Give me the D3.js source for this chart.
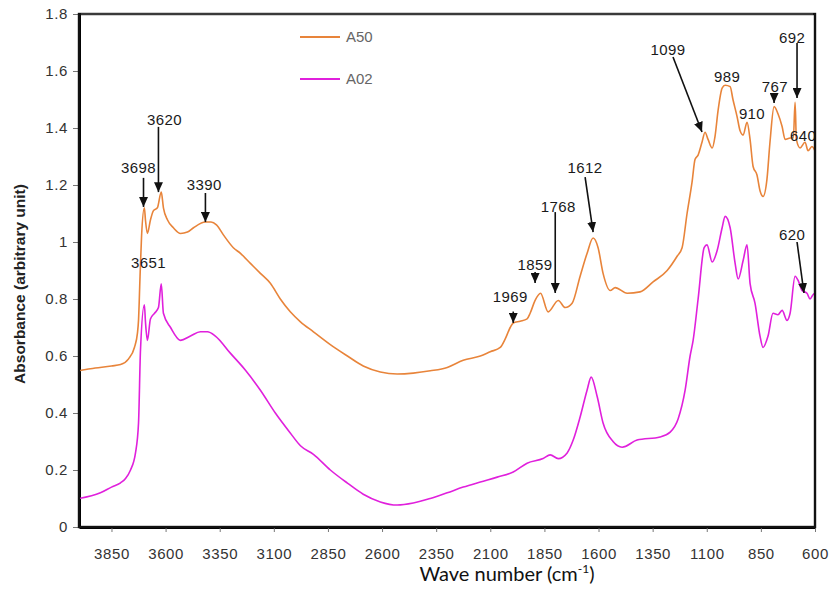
<!DOCTYPE html>
<html>
<head>
<meta charset="utf-8">
<script src="https://cdn.jsdelivr.net/npm/d3@7"></script>
<style>
  body { margin: 0; background: #fff; }
  svg { display: block; font-family: 'Liberation Sans', Arial, sans-serif; }
  .tick text { fill: #333; font-size: 15px; letter-spacing: 0.6px; }
  .tick line { stroke: #777; }
  .peak-label { font-size: 15px; fill: #1a1a1a; letter-spacing: 0.4px; }
  .legend-text { font-size: 15px; fill: #666; }
</style>
</head>
<body>
<div id="chart"></div>
<script>
var width = 833;
var height = 596;
var margin = { top: 14, right: 18, bottom: 69, left: 79 };
var graphWidth = width - margin.left - margin.right;
var graphHeight = height - margin.top - margin.bottom;

// A50 spectrum (wave number, absorbance)
var a50Wave = [4000, 3947, 3850, 3808, 3771, 3744, 3730, 3725, 3718, 3711,
  3698, 3693, 3684, 3670, 3656, 3638, 3620, 3610, 3591, 3564,
  3531, 3499, 3471, 3416, 3390, 3365, 3333, 3287, 3254, 3208,
  3162, 3116, 3070, 3024, 2977, 2917, 2839, 2760, 2687, 2608,
  2530, 2456, 2377, 2299, 2225, 2146, 2100, 2054, 2031, 2008,
  1994, 1962, 1930, 1916, 1893, 1868, 1833, 1786, 1754, 1722,
  1685, 1653, 1625, 1602, 1579, 1546, 1523, 1468, 1408, 1348,
  1283, 1237, 1214, 1191, 1168, 1154, 1140, 1122, 1108, 1094,
  1075, 1062, 1048, 1029, 1015, 992, 979, 960, 946, 932,
  914, 900, 886, 868, 854, 840, 822, 808, 789, 771,
  752, 738, 715, 700, 692, 686, 669, 646, 632, 614,
  600];
var a50Abs = [0.548, 0.555, 0.565, 0.57, 0.59, 0.63, 0.68, 0.726, 0.88, 1.02,
  1.12, 1.077, 1.03, 1.077, 1.11, 1.12, 1.175, 1.12, 1.077, 1.05,
  1.03, 1.035, 1.05, 1.07, 1.07, 1.06, 1.025, 0.98, 0.96, 0.925,
  0.89, 0.855, 0.80, 0.755, 0.72, 0.685, 0.64, 0.60, 0.565, 0.544,
  0.537, 0.54, 0.548, 0.56, 0.585, 0.60, 0.615, 0.63, 0.66, 0.70,
  0.716, 0.722, 0.73, 0.75, 0.795, 0.82, 0.755, 0.795, 0.77, 0.785,
  0.88, 0.96, 1.014, 0.98, 0.89, 0.83, 0.84, 0.82, 0.825, 0.86,
  0.90, 0.95, 0.98, 1.10, 1.21, 1.29, 1.305, 1.35, 1.385, 1.36,
  1.33, 1.37, 1.46, 1.54, 1.55, 1.545, 1.50, 1.44, 1.39, 1.375,
  1.42, 1.36, 1.265, 1.235, 1.18, 1.16, 1.22, 1.35, 1.475, 1.45,
  1.405, 1.36, 1.365, 1.365, 1.49, 1.36, 1.33, 1.35, 1.32, 1.335,
  1.32];

// A02 spectrum
var a02Wave = [4000, 3901, 3850, 3808, 3785, 3762, 3739, 3725, 3716, 3698,
  3693, 3684, 3670, 3651, 3633, 3620, 3610, 3577, 3531, 3485,
  3439, 3407, 3370, 3301, 3231, 3162, 3093, 3024, 2977, 2917,
  2839, 2760, 2687, 2608, 2530, 2456, 2377, 2299, 2225, 2146,
  2068, 1994, 1930, 1856, 1823, 1786, 1745, 1717, 1685, 1653,
  1634, 1606, 1579, 1533, 1491, 1422, 1316, 1269, 1232, 1200,
  1177, 1163, 1140, 1112, 1099, 1075, 1052, 1029, 1015, 992,
  969, 955, 932, 914, 900, 877, 854, 840, 817, 794,
  771, 752, 729, 715, 692, 678, 660, 637, 623, 609,
  600];
var a02Abs = [0.10, 0.12, 0.14, 0.155, 0.17, 0.20, 0.26, 0.365, 0.62, 0.78,
  0.72, 0.655, 0.73, 0.75, 0.77, 0.853, 0.75, 0.70, 0.655, 0.67,
  0.685, 0.685, 0.67, 0.61, 0.55, 0.48, 0.40, 0.33, 0.285, 0.255,
  0.20, 0.154, 0.115, 0.088, 0.077, 0.084, 0.10, 0.12, 0.14, 0.158,
  0.175, 0.193, 0.224, 0.24, 0.253, 0.24, 0.26, 0.305, 0.386, 0.48,
  0.526, 0.457, 0.365, 0.30, 0.28, 0.305, 0.316, 0.333, 0.38, 0.48,
  0.60, 0.655, 0.80, 0.98, 0.99, 0.93, 0.97, 1.05, 1.09, 1.05,
  0.925, 0.87, 0.935, 0.99, 0.855, 0.785, 0.67, 0.63, 0.67, 0.75,
  0.745, 0.76, 0.725, 0.75, 0.88, 0.865, 0.83, 0.82, 0.80, 0.815,
  0.82];

var xTicks = [3850, 3600, 3350, 3100, 2850, 2600, 2350, 2100, 1850, 1600, 1350, 1100, 850, 600];
var yTicks = [0, 0.2, 0.4, 0.6, 0.8, 1, 1.2, 1.4, 1.6, 1.8];
var seriesNames = ['A50', 'A02'];
var seriesColors = ['#e8843a', '#e020dc'];

// peak labels: text, label point, arrow start, arrow tip (wave number, absorbance)
var peakText = ['3698', '3620', '3390', '3651', '1969', '1859', '1768', '1612', '1099', '989', '910', '767', '692', '640', '620'];
var peakLabelAt = [[3725, 1.26], [3605, 1.428], [3421, 1.20], [3679, 0.926], [2008, 0.807], [1893, 0.919], [1786, 1.123], [1662, 1.26], [1279, 1.674], [1006, 1.579], [891, 1.449], [785, 1.544], [706, 1.716], [655, 1.372], [706, 1.025]];
var peakArrowFrom = [[3702, 1.225], [3633, 1.404], [3416, 1.172], null, [1994, 0.756], [1893, 0.895], [1800, 1.105], [1662, 1.228], [1256, 1.649], null, null, [789, 1.518], [683, 1.698], null, [683, 1.0]];
var peakArrowTo = [[3702, 1.123], [3633, 1.175], [3416, 1.07], null, [1994, 0.716], [1893, 0.856], [1800, 0.821], [1625, 1.035], [1122, 1.386], null, null, [789, 1.488], [683, 1.505], null, [651, 0.821]];

var svg = d3
  .select('#chart')
  .append('svg')
  .attr('width', width)
  .attr('height', height);

var defs = svg.append('defs');
defs
  .append('marker')
  .attr('id', 'arrow')
  .attr('viewBox', '0 0 10 9')
  .attr('refX', 10)
  .attr('refY', 4.5)
  .attr('markerWidth', 10)
  .attr('markerHeight', 9)
  .attr('markerUnits', 'userSpaceOnUse')
  .attr('orient', 'auto')
  .append('path')
  .attr('d', 'M0,0 L10,4.5 L0,9 Z')
  .attr('fill', '#111');

defs
  .append('clipPath')
  .attr('id', 'plot-clip')
  .append('rect')
  .attr('width', graphWidth)
  .attr('height', graphHeight);

var graph = svg
  .append('g')
  .attr('transform', 'translate(' + margin.left + ',' + margin.top + ')');

var x = d3.scaleLinear().domain([4000, 600]).range([0, graphWidth]);
var y = d3.scaleLinear().domain([0, 1.8]).range([graphHeight, 0]);

// Axes
var xAxisGroup = graph
  .append('g')
  .attr('class', 'x-axis')
  .attr('transform', 'translate(0,' + graphHeight + ')')
  .call(d3.axisBottom(x).tickValues(xTicks).tickSize(5).tickSizeOuter(0).tickPadding(13).tickFormat(d3.format('d')));
var yAxisGroup = graph
  .append('g')
  .attr('class', 'y-axis')
  .call(d3.axisLeft(y).tickValues(yTicks).tickSize(6).tickSizeOuter(0).tickPadding(5).tickFormat(d3.format('~g')));

xAxisGroup.selectAll('.tick text').attr('dy', '0.95em');
xAxisGroup.select('.domain').attr('stroke', '#000').attr('stroke-width', 3);
yAxisGroup.select('.domain').attr('stroke', '#000').attr('stroke-width', 3);

// Spectra
var line = d3
  .line()
  .x(d => x(d[0]))
  .y(d => y(d[1]))
  .curve(d3.curveMonotoneX);

var series = [d3.zip(a50Wave, a50Abs), d3.zip(a02Wave, a02Abs)];

graph
  .append('g')
  .attr('clip-path', 'url(#plot-clip)')
  .selectAll('path')
  .data(series)
  .enter()
  .append('path')
  .attr('d', line)
  .attr('fill', 'none')
  .attr('stroke', (d, i) => seriesColors[i])
  .attr('stroke-width', 1.6)
  .attr('stroke-linejoin', 'round');

// Legend
var legend = graph
  .append('g')
  .selectAll('g')
  .data(seriesNames)
  .enter()
  .append('g')
  .attr('transform', (d, i) => 'translate(' + (300 - margin.left) + ',' + (37 - margin.top + i * 42) + ')');
legend
  .append('line')
  .attr('x1', 0)
  .attr('x2', 40)
  .attr('stroke', (d, i) => seriesColors[i])
  .attr('stroke-width', 1.8);
legend
  .append('text')
  .attr('class', 'legend-text')
  .attr('x', 46)
  .attr('dy', '0.35em')
  .text(d => d);

// Peak arrows and labels
var peaks = graph.append('g');
peakText.forEach(function (t, i) {
  if (peakArrowFrom[i]) {
    peaks
      .append('line')
      .attr('x1', x(peakArrowFrom[i][0]))
      .attr('y1', y(peakArrowFrom[i][1]))
      .attr('x2', x(peakArrowTo[i][0]))
      .attr('y2', y(peakArrowTo[i][1]))
      .attr('stroke', '#111')
      .attr('stroke-width', 1.6)
      .attr('marker-end', 'url(#arrow)');
  }
  peaks
    .append('text')
    .attr('class', 'peak-label')
    .attr('x', x(peakLabelAt[i][0]))
    .attr('y', y(peakLabelAt[i][1]))
    .attr('dy', '0.36em')
    .attr('text-anchor', 'middle')
    .text(t);
});

// plot box on top (top edge a touch lighter, like the original)
svg
  .append('rect')
  .attr('x', margin.left)
  .attr('y', margin.top)
  .attr('width', graphWidth)
  .attr('height', graphHeight)
  .attr('fill', 'none')
  .attr('stroke', '#111')
  .attr('stroke-width', 2.4);
svg
  .append('line')
  .attr('x1', margin.left + 2)
  .attr('x2', margin.left + graphWidth - 2)
  .attr('y1', margin.top)
  .attr('y2', margin.top)
  .attr('stroke', '#3a3a3a')
  .attr('stroke-width', 2.2);

// Axis titles
svg
  .append('text')
  .attr('transform', 'translate(20,284) rotate(-90)')
  .attr('text-anchor', 'middle')
  .attr('dy', '0.35em')
  .style('font-size', '15.5px')
  .style('font-weight', 'bold')
  .style('fill', '#222')
  .text('Absorbance (arbitrary unit)');

var xTitle = svg
  .append('text')
  .attr('x', 507)
  .attr('y', 581)
  .attr('text-anchor', 'middle')
  .style('font-family', 'Lato, "Open Sans", sans-serif')
  .style('font-size', '20px')
  .style('fill', '#111');
xTitle.append('tspan').text('Wave number (cm');
xTitle.append('tspan').attr('dy', -8).style('font-size', '12px').text('-1');
xTitle.append('tspan').attr('dy', 8).text(')');
</script>
</body>
</html>
